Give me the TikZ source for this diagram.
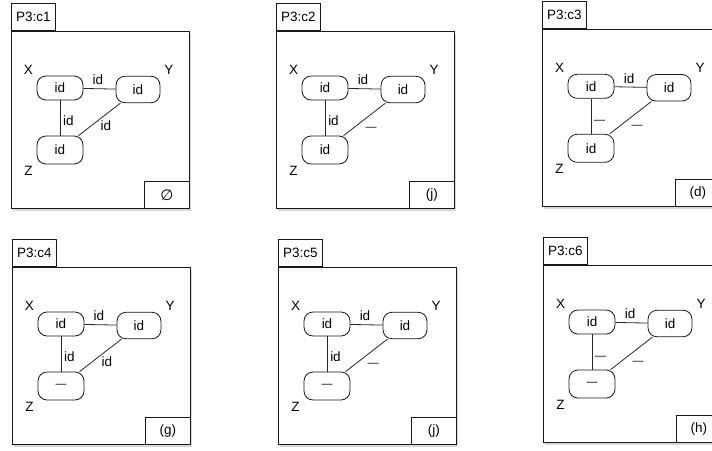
\documentclass[tikz,border=0pt]{standalone}
\usepackage{fontspec}
\setmainfont{Liberation Sans}
\newfontfamily\symfont{DejaVu Sans}
\usetikzlibrary{shadows}
\tikzset{
  frame/.style={draw=black!90, line width=0.9pt, fill=white, inner sep=0pt,
    minimum width=178pt, minimum height=177pt,
    drop shadow={opacity=0.3, shadow xshift=1.5pt, shadow yshift=-2.5pt}},
  tabbox/.style={draw=black!90, line width=0.9pt, fill=white, inner sep=0pt,
    minimum width=44pt, minimum height=27.5pt, font=\fontsize{13.5}{15}\selectfont},
  tagbox/.style={draw=black!90, line width=0.9pt, fill=white, inner sep=0pt,
    minimum width=45pt, minimum height=27pt, font=\fontsize{13.5}{15}\selectfont},
  objbox/.style={draw=black!90, line width=0.8pt, fill=white, inner sep=0pt,
    rounded corners=9pt, font=\fontsize{13.5}{15}\selectfont},
  vname/.style={inner sep=0pt, font=\fontsize{13.5}{15}\selectfont},
  elbl/.style={inner sep=0pt, text height=9.5pt, text depth=0pt, font=\fontsize{13.5}{15}\selectfont},
  conn/.style={draw=black!85, line width=0.8pt},
}
\newcommand{\dsh}{{\fontsize{11}{13}\selectfont —}}
% #1 x, #2 y, #3 prefix, #4 title, #5 tag, #6 Z text, #7 vertical label, #8 diagonal label
\newcommand{\mypanel}[8]{%
  \begin{scope}[shift={(#1,#2)}]
    \node[frame, anchor=north west] (#3f) at (0,0) {};
    \node[tabbox, anchor=south west] (#3t) at (#3f.north west) {#4};
    \node[tagbox, anchor=south east] (#3g) at (#3f.south east) {#5};
    \node[objbox, minimum width=46pt, minimum height=24pt] (#3X) at (49,57) {id};
    \node[objbox, minimum width=44pt, minimum height=26.5pt] (#3Y) at (127,58.5) {id};
    \node[objbox, minimum width=46pt, minimum height=28pt] (#3Z) at (49,119) {#6};
    \draw[conn] (#3X) -- (#3Y);
    \draw[conn] (#3X) -- (#3Z);
    \draw[conn] (#3Y) -- (#3Z);
    \node[vname] (#3xl) at (17.5,39) {X};
    \node[vname] (#3yl) at (158,39) {Y};
    \node[vname] (#3zl) at (17.5,139.5) {Z};
    \node[elbl] (#3e1) at (87,49) {id};
    \node[elbl] (#3e2) at (57.5,89.5) {#7};
    \node[elbl] (#3e3) at (95,94.5) {#8};
  \end{scope}}
\begin{document}
\begin{tikzpicture}[x=1pt,y=-1pt]
\useasboundingbox (0,0) rectangle (712,450);
\clip (0,0) rectangle (712,450);
\fill[white] (0,0) rectangle (712,450);
\mypanel{11}{31}{a}{P3:c1}{{\symfont\fontsize{15}{16}\selectfont ∅}}{id}{id}{id}
\mypanel{276}{31}{b}{P3:c2}{(j)}{id}{id}{\dsh}
\mypanel{542}{29.3}{c}{P3:c3}{(d)}{id}{\dsh}{\dsh}
\mypanel{12}{267}{d}{P3:c4}{(g)}{\dsh}{id}{id}
\mypanel{278}{267}{e}{P3:c5}{(j)}{\dsh}{id}{\dsh}
\mypanel{543}{265}{f}{P3:c6}{(h)}{\dsh}{\dsh}{\dsh}
\end{tikzpicture}
\end{document}
